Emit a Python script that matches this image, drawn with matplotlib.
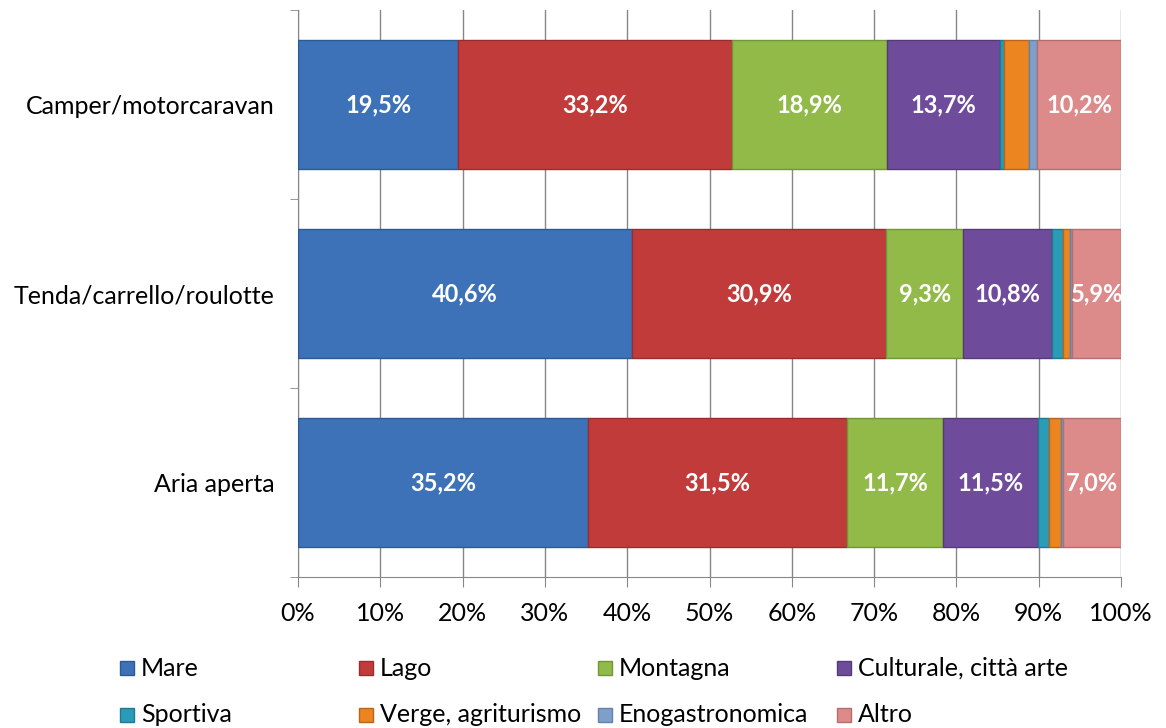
import matplotlib
matplotlib.use("Agg")
import matplotlib.pyplot as plt
from matplotlib.patches import Rectangle
import numpy as np

plt.rcParams['font.family'] = ['Lato', 'DejaVu Sans']

# Categories (bottom to top) and series shares in percent
categories = ["Aria aperta", "Tenda/carrello/roulotte", "Camper/motorcaravan"]
series = ["Mare", "Lago", "Montagna", "Culturale, città arte",
          "Sportiva", "Verge, agriturismo", "Enogastronomica", "Altro"]
mare = [35.2, 40.6, 19.5]
lago = [31.5, 30.9, 33.2]
montagna = [11.7, 9.3, 18.9]
culturale = [11.5, 10.8, 13.7]
sportiva = [1.4, 1.4, 0.5]
verde = [1.4, 0.8, 3.0]
enogastronomica = [0.3, 0.3, 1.0]
altro = [7.0, 5.9, 10.2]
labelled = [True, True, True, True, False, False, False, True]

colors = ['#3D72B8', '#C23B3B', '#92BA48', '#6F4C9B',
          '#2B9CB8', '#EC8520', '#7F9FCB', '#DC8A8A']
edges = ['#2E5A93', '#982D2D', '#72943A', '#553A78',
         '#1F7A91', '#B8651A', '#6282AD', '#B56E6E']

values = [mare, lago, montagna, culturale, sportiva, verde, enogastronomica, altro]

fig = plt.figure(figsize=(11.66, 7.28), dpi=100)
ax = fig.add_axes([298 / 1166, 1 - 577 / 728, (1121 - 298) / 1166, (577 - 10) / 728])

y = np.arange(len(categories))
left = np.zeros(len(categories))
for vals, col, ec, lab in zip(values, colors, edges, labelled):
    vals = np.array(vals)
    ax.barh(y, vals, left=left, height=0.68, color=col, edgecolor=ec,
            linewidth=1, zorder=3)
    if lab:
        for yi, l, v in zip(y, left, vals):
            txt = f"{v:.1f}%".replace(".", ",")
            ax.text(l + v / 2, yi, txt, ha='center', va='center',
                    color='white', fontsize=17, fontweight='bold', zorder=4)
    left += vals

ax.set_xlim(0, 100)
ax.set_ylim(-0.5, 2.5)
ax.set_xticks(np.arange(0, 101, 10))
ax.set_xticklabels([f"{t}%" for t in range(0, 101, 10)], fontsize=18)
ax.set_yticks(y)
ax.set_yticklabels(categories, fontsize=18)
ax.set_yticks([-0.5, 0.5, 1.5, 2.5], minor=True)
ax.tick_params(axis='y', which='major', length=0, pad=17)
ax.tick_params(axis='y', which='minor', length=6, color='#878787', direction='out')
ax.tick_params(axis='x', length=7, color='#878787', pad=11)
ax.grid(axis='x', color='#878787', linewidth=1, zorder=0)
for s in ['top', 'right']:
    ax.spines[s].set_visible(False)
for s in ['left', 'bottom']:
    ax.spines[s].set_color('#878787')

# Legend laid out row by row, as in the original
for i, (name, col, ec) in enumerate(zip(series, colors, edges)):
    row, c = divmod(i, 4)
    x0 = 120 + c * 239
    yc = 668 + row * 47
    fig.patches.append(Rectangle((x0 / 1166, 1 - (yc + 7) / 728), 14 / 1166, 14 / 728,
                                 transform=fig.transFigure, facecolor=col,
                                 edgecolor=ec, linewidth=1))
    fig.text((x0 + 21) / 1166, 1 - yc / 728, name, fontsize=18, va='center', ha='left')

fig.savefig("out.png", dpi=100)
